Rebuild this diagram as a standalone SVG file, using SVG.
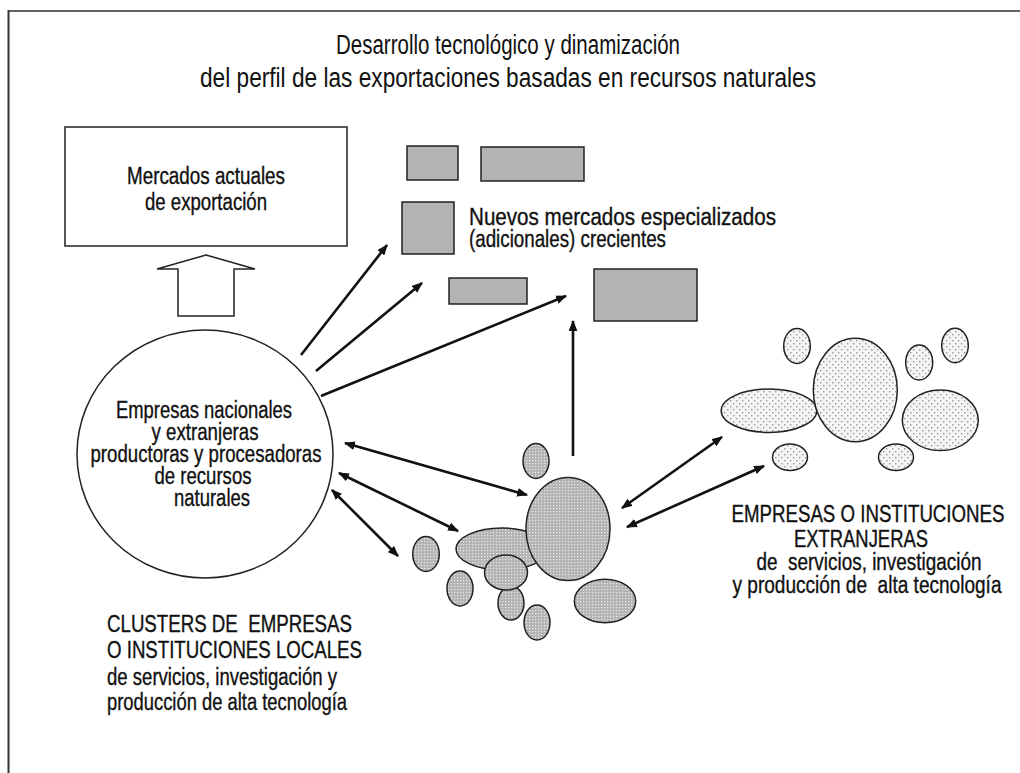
<svg xmlns="http://www.w3.org/2000/svg" width="1020" height="773" viewBox="0 0 1020 773">
<style>
text{font-family:"Liberation Sans Narrow","Liberation Sans",Arial,sans-serif;fill:#111}
.t{font-size:27px;text-anchor:middle}
.l{font-size:23px;stroke:#111;stroke-width:0.35}
.c{text-anchor:middle}
.mk{fill:#b3b3b3;stroke:#222;stroke-width:1.5}
.loc{fill:url(#dense);stroke:#222;stroke-width:1.5}
.ext{fill:url(#sparse);stroke:#222;stroke-width:1.5}
.cn{stroke:#111;stroke-width:2.6;fill:none}
</style>
<defs>
<pattern id="dense" width="3" height="3" patternUnits="userSpaceOnUse">
<rect width="3" height="3" fill="#b4b4b4"/>
<rect x="1" y="1" width="1.2" height="1.2" fill="#e8e8e8"/>
</pattern>
<pattern id="sparse" width="6" height="6" patternUnits="userSpaceOnUse">
<rect width="6" height="6" fill="#f4f4f4"/>
<rect x="1" y="1" width="1.4" height="1.4" fill="#9a9a9a"/>
<rect x="4" y="4" width="1.4" height="1.4" fill="#9a9a9a"/>
</pattern>
<marker id="ah" viewBox="0 0 10 8" refX="9" refY="4" markerWidth="11" markerHeight="9" markerUnits="userSpaceOnUse" orient="auto-start-reverse">
<path d="M0,0 L10,4 L0,8 z" fill="#111"/>
</marker>
</defs>
<rect width="1020" height="773" fill="#fff"/>
<g id="frame">
<line x1="8" y1="11" x2="1020" y2="11" stroke="#666" stroke-width="2"/>
<line x1="8.5" y1="10" x2="8.5" y2="773" stroke="#333" stroke-width="2"/>
</g>
<g id="title">
<text class="t" x="508" y="54" textLength="344" lengthAdjust="spacingAndGlyphs">Desarrollo tecnológico y dinamización</text>
<text class="t" x="508" y="87" textLength="616" lengthAdjust="spacingAndGlyphs">del perfil de las exportaciones basadas en recursos naturales</text>
</g>
<g id="mercados-actuales">
<rect x="65" y="127" width="282" height="119" fill="#fff" stroke="#222" stroke-width="1.5"/>
<text class="l c" x="206" y="184" textLength="158" lengthAdjust="spacingAndGlyphs">Mercados actuales</text>
<text class="l c" x="206" y="210" textLength="122" lengthAdjust="spacingAndGlyphs">de exportación</text>
</g>
<g id="flecha-hueca">
<polygon points="206,255 255,269 234,269 234,316 178,316 178,269 157,269" fill="#fff" stroke="#222" stroke-width="1.5"/>
</g>
<g id="empresas">
<ellipse cx="205" cy="454" rx="128" ry="124" fill="#fff" stroke="#222" stroke-width="1.5"/>
<text class="l c" x="204" y="418" textLength="176" lengthAdjust="spacingAndGlyphs">Empresas nacionales</text>
<text class="l c" x="205" y="440" textLength="107" lengthAdjust="spacingAndGlyphs">y extranjeras</text>
<text class="l c" x="206" y="462" textLength="231" lengthAdjust="spacingAndGlyphs">productoras y procesadoras</text>
<text class="l c" x="203" y="484" textLength="97" lengthAdjust="spacingAndGlyphs">de recursos</text>
<text class="l c" x="212" y="506" textLength="76" lengthAdjust="spacingAndGlyphs">naturales</text>
</g>
<g id="nuevos-mercados">
<rect class="mk" x="407" y="146" width="51" height="34"/>
<rect class="mk" x="481" y="147" width="103" height="34"/>
<rect class="mk" x="402" y="202" width="52" height="52"/>
<rect class="mk" x="449" y="278" width="78" height="26"/>
<rect class="mk" x="594" y="269" width="103" height="52"/>
<text class="l" x="469" y="225" textLength="307" lengthAdjust="spacingAndGlyphs">Nuevos mercados especializados</text>
<text class="l" x="469" y="247" textLength="197" lengthAdjust="spacingAndGlyphs">(adicionales) crecientes</text>
</g>
<g id="cluster-local">
<ellipse class="loc" cx="536" cy="461" rx="13" ry="17.5"/>
<ellipse class="loc" cx="502" cy="549" rx="46" ry="21"/>
<ellipse class="loc" cx="568" cy="529" rx="42" ry="51.5"/>
<ellipse class="loc" cx="511" cy="603" rx="13" ry="17"/>
<ellipse class="loc" cx="506" cy="572.5" rx="21.5" ry="17.5"/>
<ellipse class="loc" cx="426" cy="554" rx="13.3" ry="17.5"/>
<ellipse class="loc" cx="460" cy="588.5" rx="13" ry="17.5"/>
<ellipse class="loc" cx="537" cy="622.5" rx="13" ry="17.5"/>
<ellipse class="loc" cx="605" cy="601" rx="30.7" ry="21.8"/>
<text class="l" x="107" y="632" textLength="245" lengthAdjust="spacingAndGlyphs" xml:space="preserve">CLUSTERS DE  EMPRESAS</text>
<text class="l" x="107" y="658" textLength="255" lengthAdjust="spacingAndGlyphs">O INSTITUCIONES LOCALES</text>
<text class="l" x="107" y="685" textLength="230" lengthAdjust="spacingAndGlyphs">de servicios, investigación y</text>
<text class="l" x="107" y="710" textLength="240" lengthAdjust="spacingAndGlyphs">producción de alta tecnología</text>
</g>
<g id="cluster-extranjero">
<ellipse class="ext" cx="797" cy="346" rx="13.3" ry="17.5"/>
<ellipse class="ext" cx="769" cy="410.7" rx="47.8" ry="21.7"/>
<ellipse class="ext" cx="855.3" cy="390" rx="42" ry="51.7"/>
<ellipse class="ext" cx="919.2" cy="362.5" rx="13.5" ry="17.5"/>
<ellipse class="ext" cx="955" cy="345.5" rx="13.3" ry="17.2"/>
<ellipse class="ext" cx="940.3" cy="420.3" rx="38" ry="30.3"/>
<ellipse class="ext" cx="790" cy="457.3" rx="17.5" ry="13.3"/>
<ellipse class="ext" cx="896" cy="457.3" rx="17.5" ry="13.3"/>
<text class="l c" x="868" y="522" textLength="273" lengthAdjust="spacingAndGlyphs">EMPRESAS O INSTITUCIONES</text>
<text class="l c" x="861" y="547" textLength="134" lengthAdjust="spacingAndGlyphs">EXTRANJERAS</text>
<text class="l c" x="869" y="570" textLength="225" lengthAdjust="spacingAndGlyphs" xml:space="preserve">de  servicios, investigación</text>
<text class="l c" x="867" y="593" textLength="269" lengthAdjust="spacingAndGlyphs" xml:space="preserve">y producción de  alta tecnología</text>
</g>
<g id="conectores">
<line class="cn" x1="301" y1="355" x2="387" y2="245" marker-end="url(#ah)"/>
<line class="cn" x1="316" y1="371" x2="422" y2="283" marker-end="url(#ah)"/>
<line class="cn" x1="321" y1="396" x2="566" y2="296" marker-end="url(#ah)"/>
<line class="cn" x1="573" y1="456" x2="573" y2="321" marker-end="url(#ah)"/>
<line class="cn" x1="345" y1="443" x2="527" y2="495" marker-start="url(#ah)" marker-end="url(#ah)"/>
<line class="cn" x1="339" y1="473" x2="458" y2="531" marker-start="url(#ah)" marker-end="url(#ah)"/>
<line class="cn" x1="332" y1="490" x2="398" y2="556" marker-start="url(#ah)" marker-end="url(#ah)"/>
<line class="cn" x1="622" y1="508" x2="722" y2="437" marker-start="url(#ah)" marker-end="url(#ah)"/>
<line class="cn" x1="627" y1="527" x2="764" y2="466" marker-start="url(#ah)" marker-end="url(#ah)"/>
</g>
</svg>
